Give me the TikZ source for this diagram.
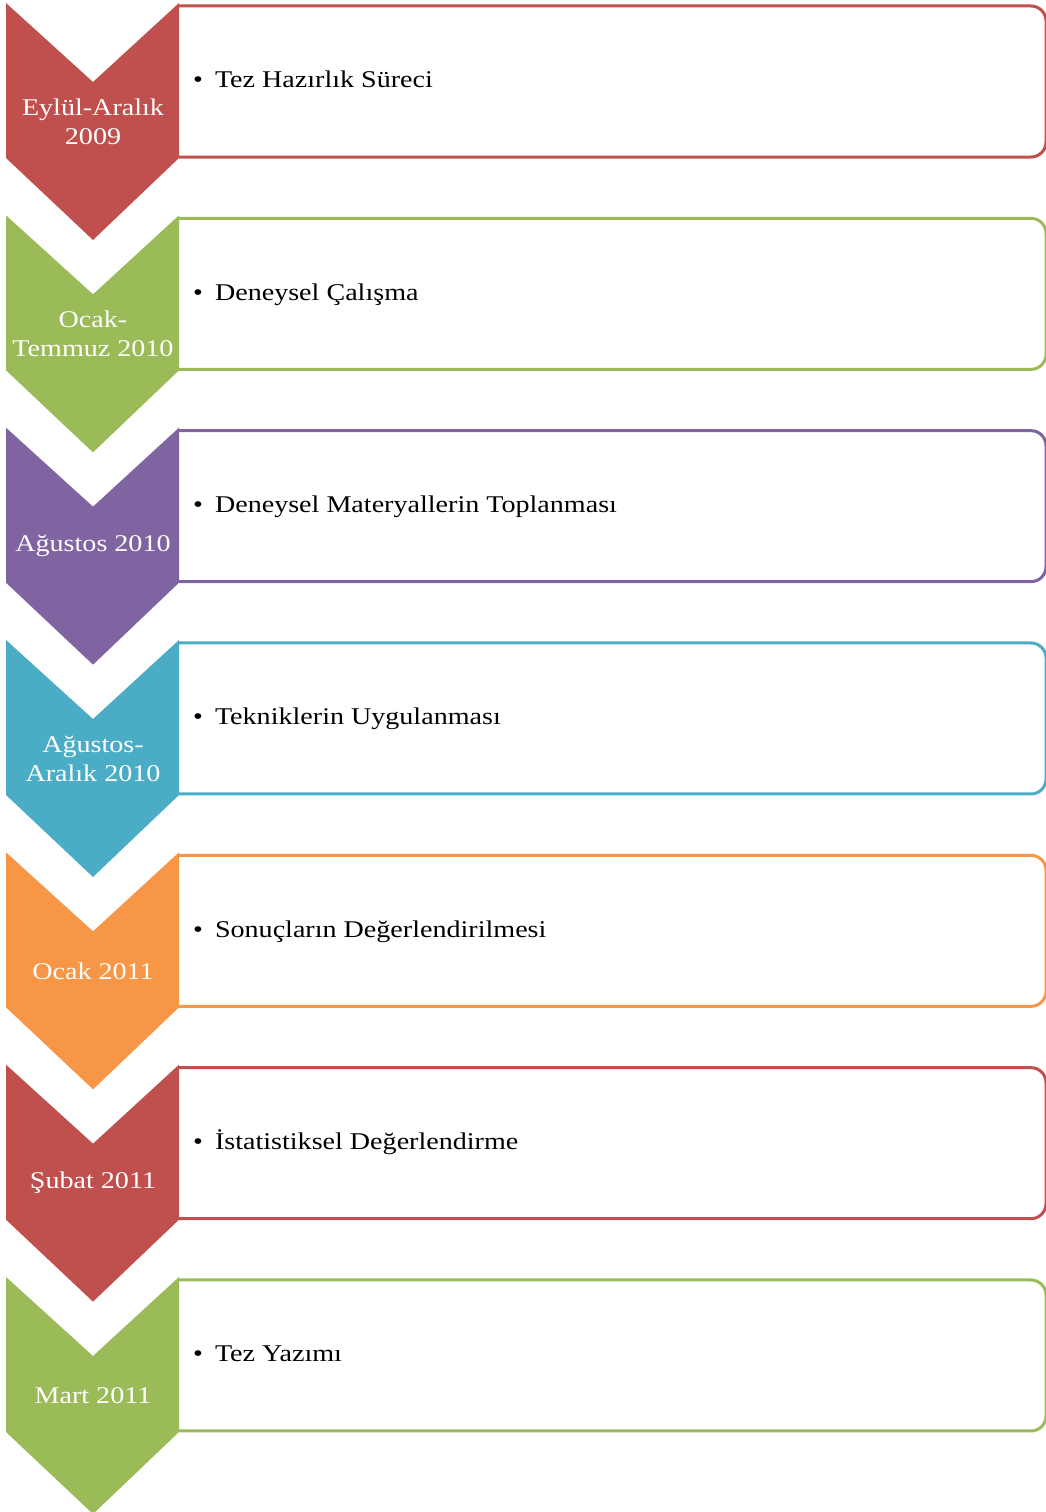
\documentclass[tikz,border=0pt]{standalone}
\usepackage{fontspec}
\setmainfont{Liberation Serif}
\newfontfamily\widefont[FakeStretch=1.17]{Liberation Serif}
\usepackage{tikz}
\usetikzlibrary{positioning, calc}
\definecolor{myred}{RGB}{192,80,77}
\definecolor{mygreen}{RGB}{155,187,89}
\definecolor{mypurple}{RGB}{128,100,162}
\definecolor{myteal}{RGB}{75,172,198}
\definecolor{myorange}{RGB}{247,150,70}
\tikzset{
  chev/.style={fill=#1, draw=none},
  taskbox/.style={draw=#1, line width=3pt, rounded corners=15pt},
  datelbl/.style={align=center, text=white, inner sep=0pt,
    font=\widefont\fontsize{24}{29}\selectfont},
  tasklbl/.style={anchor=base west, inner sep=0pt,
    font=\widefont\fontsize{24}{29}\selectfont}
}

\begin{document}
\begin{tikzpicture}[x=1pt, y=-1pt]
  \useasboundingbox (0,0) rectangle (1046,1512);
  % phases: colour / date / task
  \foreach \col/\dt/\task [count=\i from 0] in {
      myred/{Eylül-Aralık\\2009}/{Tez Hazırlık Süreci},
      mygreen/{Ocak-\\Temmuz 2010}/{Deneysel Çalışma},
      mypurple/{Ağustos 2010}/{Deneysel Materyallerin Toplanması},
      myteal/{Ağustos-\\Aralık 2010}/{Tekniklerin Uygulanması},
      myorange/{Ocak 2011}/{Sonuçların Değerlendirilmesi},
      myred/{Şubat 2011}/{İstatistiksel Değerlendirme},
      mygreen/{Mart 2011}/{Tez Yazımı}} {
    \begin{scope}[yshift={-(3+212.33*\i)*1pt}]
      % task box
      \draw[taskbox=\col] (179,3) -- (1046,3) -- (1046,154) -- (179,154);
      % chevron
      \fill[chev=\col] (6,0) -- (93,79) -- (179,0) -- (179,155)
        -- (93,237) -- (6,155) -- cycle;
      \node[datelbl] (date\i) at (93,118.5) {\dt};
      \node[tasklbl] (task\i) at (193,85)
        {\textbullet\hspace{12pt}\task};
    \end{scope}
  }
\end{tikzpicture}
\end{document}
